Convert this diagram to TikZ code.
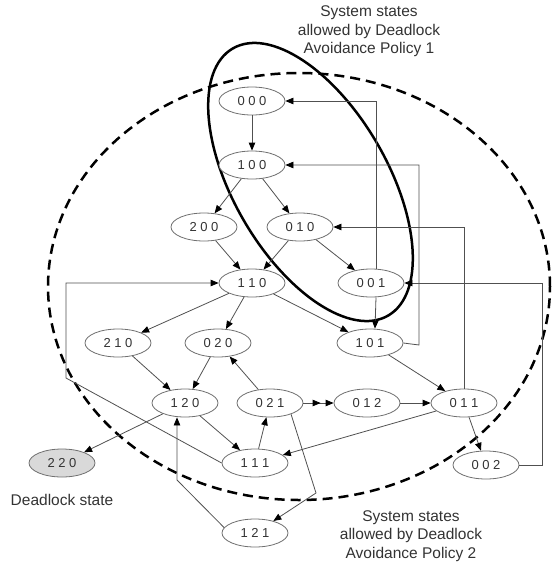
\documentclass[tikz,border=0pt]{standalone}
\usepackage{fontspec}
\setmainfont{Liberation Sans}
\usetikzlibrary{shapes.geometric,arrows.meta}
\definecolor{txt}{HTML}{333333}
\definecolor{brd}{HTML}{707070}
\definecolor{lin}{HTML}{505050}
\definecolor{dead}{HTML}{D9D9D9}
\begin{document}
\begin{tikzpicture}[x=1pt,y=-1pt,
 state/.style={ellipse,draw=brd,line width=0.8pt,fill=white,minimum width=66pt,minimum height=28pt,inner sep=0pt,text=txt,font=\fontsize{13}{15}\selectfont},
 edge/.style={draw=lin,line width=0.8pt,-{Triangle[length=8pt,width=6.5pt,color=black]}},
 dbledge/.style={draw=lin,line width=0.8pt,-{Triangle[length=8pt,width=6.5pt,color=black,sep=5pt]Triangle[length=8pt,width=6.5pt,color=black]}},
 lbl/.style={align=center,text=txt,font=\fontsize{15.5}{18.5}\selectfont},
 region/.style={line width=2.5pt,black}]
\useasboundingbox (0,0) rectangle (553,568);
% policy regions
\draw[region,dash pattern=on 10pt off 6pt] (299,286.5) ellipse [x radius=251pt, y radius=213.5pt];
\draw[region,rotate around={-59.8:(310.5,182)}] (310.5,182) ellipse [x radius=154.5pt, y radius=77pt];
% states
\node[state] (n000) at (252,101) {0 0 0};
\node[state] (n100) at (252,165) {1 0 0};
\node[state] (n200) at (204,227) {2 0 0};
\node[state] (n010) at (300,227) {0 1 0};
\node[state] (n110) at (252,283) {1 1 0};
\node[state] (n001) at (371,283) {0 0 1};
\node[state] (n210) at (118,343) {2 1 0};
\node[state] (n020) at (218,343) {0 2 0};
\node[state] (n101) at (370,343) {1 0 1};
\node[state] (n120) at (185,403) {1 2 0};
\node[state] (n021) at (270,403) {0 2 1};
\node[state] (n012) at (367,403) {0 1 2};
\node[state] (n011) at (464,403) {0 1 1};
\node[state,fill=dead] (n220) at (62,463) {2 2 0};
\node[state] (n111) at (255,463) {1 1 1};
\node[state] (n002) at (486,465) {0 0 2};
\node[state] (n121) at (255,533) {1 2 1};
% labels
\node[lbl] (top) at (369,31.5) {System states\\allowed by Deadlock\\Avoidance Policy 1};
\node[lbl] (bot) at (411,536) {System states\\allowed by Deadlock\\Avoidance Policy 2};
\node[lbl] (dl) at (62,500) {Deadlock state};
% bend points
\coordinate (c1) at (419,345);
\coordinate (c2) at (542,465);
\coordinate (c3) at (66,378);
\coordinate (c4) at (316,493);
\coordinate (c5) at (177,480);
% straight transitions
\draw[edge] (n000) -- (n100);
\draw[edge] (n100) -- (n200);
\draw[edge] (n100) -- (n010);
\draw[edge] (n200) -- (n110);
\draw[edge] (n010) -- (n110);
\draw[edge] (n010) -- (n001);
\draw[edge] (n110) -- (n210);
\draw[edge] (n110) -- (n020);
\draw[edge] (n110) -- (n101);
\draw[edge] ([xshift=5pt]n001.south) -- ([xshift=5pt]n101.north);
\draw[edge] (n101) -- (n011);
\draw[edge] (n210) -- (n120);
\draw[edge] (n020) -- (n120);
\draw[edge] (n021) -- (n020);
\draw[dbledge] (n021) -- (n012);
\draw[edge] (n012) -- (n011);
\draw[edge] (n011) -- (n111);
\draw[edge] (n011) -- (n002);
\draw[edge] (n120) -- (n220);
\draw[edge] (n120) -- (n111);
\draw[edge] (n111) -- (n021);
% routed transitions
\draw[edge] ([xshift=5pt]n001.north) |- (n000.east);
\draw[edge] (n101.east) -- (c1) |- (n100.east);
\draw[edge] (n011.north) |- (n010.east);
\draw[edge] (n002.east) -- (c2) |- (n001.east);
\draw[edge] (n111.west) -- (c3) |- (n110.west);
\draw[edge] (n021.-28) -- (c4) -- (n121);
\draw[edge] (n121.170) -- (c5) -- (c5 |- n120.south);
\end{tikzpicture}
\end{document}
